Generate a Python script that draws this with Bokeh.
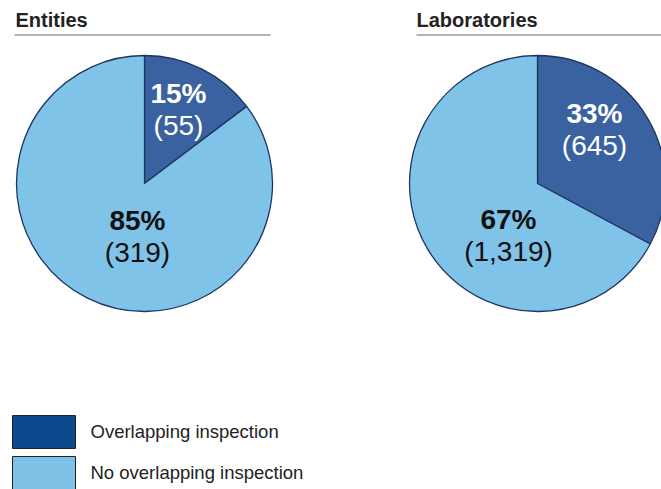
import math
from bokeh.plotting import figure
from bokeh.models import Range1d
from bokeh.core.properties import value
from bokeh.embed import file_html
from bokeh.resources import INLINE

# ---- data ----
categories = ["Overlapping inspection", "No overlapping inspection"]
titles = ["Entities", "Laboratories"]
entities = [55, 319]
laboratories = [645, 1319]

# ---- style ----
PIE_COLORS = ["#3A62A0", "#7FC3E9"]
LEG_COLORS = ["#0B4A8D", "#7DC1E7"]
OUTLINE = "#1D3560"
FONT = value("Liberation Sans")
W, H = 661, 489
PAGE_H = 489
SHIFT = 0.35  # baseline correction (fraction of font size)

def Y(page_y):
    return PAGE_H - page_y

def TY(page_baseline, fs):
    return Y(page_baseline - SHIFT * fs)

p = figure(width=W, height=H, output_backend="svg", toolbar_location=None,
           x_range=Range1d(0, W), y_range=Range1d(0, H), min_border=0)
p.axis.visible = False
p.grid.visible = False
p.outline_line_color = None
p.background_fill_color = "white"

centers = [(144, 183), (537, 183)]
R = 128
label_pos = [[(178, 103), (137, 230)], [(594, 123), (508, 229)]]
title_x = [15, 416]
rule_x = [(14, 270), (416, 661)]

for k, vals in enumerate([entities, laboratories]):
    cx, cy = centers[k]
    total = sum(vals)
    start = math.pi / 2
    for i, v in enumerate(vals):
        end = start - 2 * math.pi * v / total
        p.wedge(x=[cx], y=[Y(cy)], radius=R, start_angle=[start], end_angle=[end],
                direction="clock", fill_color=PIE_COLORS[i], line_color=OUTLINE,
                line_width=1.3)
        start = end
    for i, v in enumerate(vals):
        pct = f"{round(100 * v / total)}%"
        cnt = f"({v:,})"
        lx, ly = label_pos[k][i]
        col = "white" if i == 0 else "#111111"
        p.text(x=[lx], y=[TY(ly, 28)], text=[pct], text_font=FONT, text_font_size="28px",
               text_font_style="bold", text_color=col, text_align="center",
               text_baseline="alphabetic")
        p.text(x=[lx], y=[TY(ly + 32, 28)], text=[cnt], text_font=FONT, text_font_size="28px",
               text_color=col, text_align="center", text_baseline="alphabetic")
    p.text(x=[title_x[k]], y=[TY(26, 20)], text=[titles[k]], text_font=FONT,
           text_font_size="20px", text_font_style="bold", text_color="#222222",
           text_align="left", text_baseline="alphabetic")
    p.segment(x0=[rule_x[k][0]], y0=[Y(34.5)], x1=[rule_x[k][1]], y1=[Y(34.5)],
              line_color="#9A9A9A", line_width=1.5)

leg_tops = [415, 456]
for i, c in enumerate(categories):
    t = leg_tops[i]
    p.quad(left=[12], right=[75], top=[Y(t)], bottom=[Y(t + 33)],
           fill_color=LEG_COLORS[i], line_color="#222222", line_width=1)
    p.text(x=[90], y=[TY(t + 22, 18.5)], text=[c], text_font=FONT, text_font_size="18.5px",
           text_color="#222222", text_align="left", text_baseline="alphabetic")

open("out.html", "w").write(file_html(p, INLINE))
